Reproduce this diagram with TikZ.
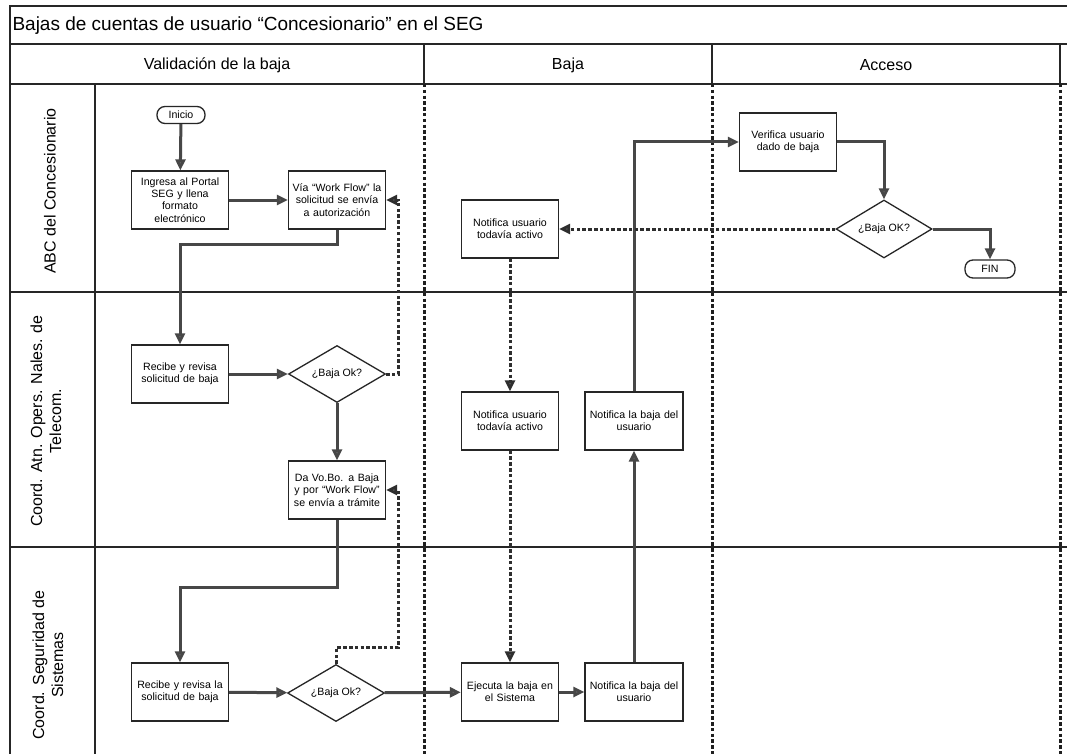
\documentclass[tikz,border=0pt]{standalone}
\usepackage{fontspec}
\setmainfont{Liberation Sans}
\usetikzlibrary{arrows.meta,shapes.geometric,calc}
\begin{document}
\begin{tikzpicture}[x=1pt,y=-1pt,
  frame/.style={line width=1.4pt,draw=black!85},
  divider/.style={line width=3pt,dash pattern=on 3.5pt off 2.3pt,draw=black!88},
  proc/.style={draw=black!85,line width=1.3pt,fill=white,minimum width=97pt,minimum height=58pt,
    text width=96pt,align=center,inner sep=0.5pt,font=\fontsize{10.6}{12.4}\selectfont},
  dec/.style={diamond,draw=black!85,line width=1.3pt,fill=white,minimum width=97pt,minimum height=57pt,
    aspect=1.7,inner sep=0pt,font=\fontsize{10.6}{12.4}\selectfont},
  term/.style={draw=black!85,line width=1.3pt,fill=white,rounded corners=8pt,minimum width=48pt,
    minimum height=17pt,inner sep=1pt,font=\fontsize{10.6}{12.4}\selectfont},
  flow/.style={line width=3pt,draw=black!72,-{Triangle[length=11pt,width=10pt,fill=black!60]}},
  dflow/.style={line width=3pt,draw=black!82,dash pattern=on 3.5pt off 2.3pt,
    -{Triangle[length=11pt,width=10pt,fill=black!60]}},
  lanelabel/.style={rotate=90,align=center,font=\fontsize{16}{19}\selectfont},
  colhead/.style={font=\fontsize{16}{19}\selectfont}
]
% page
\fill[white] (0,0) rectangle (1067,754);
\useasboundingbox (0,0) rectangle (1067,754);

% title row, column headers and lanes
\draw[frame] (10,754) -- (10,6) -- (1067,6);
\draw[frame] (10,44) -- (1067,44);
\draw[frame] (10,84) -- (1067,84);
\foreach \cx in {424,712,1060} \draw[frame] (\cx,44) -- (\cx,84);
\draw[frame] (95,84) -- (95,754);
\draw[frame] (10,292) -- (1067,292);
\draw[frame] (10,547) -- (1067,547);
\foreach \cx in {424,712,1060} \draw[divider] (\cx,84) -- (\cx,754);

\node[anchor=west,font=\fontsize{19}{22}\selectfont] (title) at (9,26)
  {Bajas de cuentas de usuario “Concesionario” en el SEG};
\node[colhead] (hval) at (217,65) {Validación de la baja};
\node[colhead] (hbaja) at (568,65) {Baja};
\node[colhead] (hacc) at (886,65) {Acceso};

\node[lanelabel] (l1) at (50,191) {ABC del Concesionario};
\node[lanelabel] (l2) at (46,421) {Coord. Atn. Opers. Nales. de\\Telecom.};
\node[lanelabel] (l3) at (48,665) {Coord. Seguridad de\\Sistemas};

% Validación de la baja
\node[term] (inicio) at (181,115) {Inicio};
\node[proc] (ingresa) at (180,200) {Ingresa al Portal\\SEG y llena\\formato\\electrónico};
\node[proc] (via) at (337,200) {Vía “Work Flow” la\\solicitud se envía\\a autorización};
\node[proc] (recibeA) at (180,374) {Recibe y revisa\\solicitud de baja};
\node[dec] (okA) at (337,374) {¿Baja Ok?};
\node[proc] (vobo) at (337,490) {Da Vo.Bo. a Baja\\y por “Work Flow”\\se envía a trámite};
\node[proc] (recibeB) at (180,692) {Recibe y revisa la\\solicitud de baja};
\node[dec] (okB) at (336,693) {¿Baja Ok?};

% Baja
\node[proc,minimum width=95pt] (activoA) at (510,229) {Notifica usuario\\todavía activo};
\node[proc,minimum width=95pt] (activoB) at (510,421) {Notifica usuario\\todavía activo};
\node[proc,minimum width=98pt] (notifA) at (634,421) {Notifica la baja del\\usuario};
\node[proc,minimum width=95pt] (ejecuta) at (510,692) {Ejecuta la baja en\\el Sistema};
\node[proc,minimum width=98pt] (notifB) at (634,692) {Notifica la baja del\\usuario};

% Acceso
\node[proc,minimum width=96pt] (verif) at (788,142) {Verifica usuario\\dado de baja};
\node[dec,minimum width=96pt,minimum height=58pt] (okC) at (884,229) {¿Baja OK?};
\node[term,minimum width=50pt,minimum height=18pt] (fin) at (990,269) {FIN};

% connectors
\draw[flow] (inicio) -- (ingresa);
\draw[flow] (ingresa) -- (via);
\draw[flow] (via.south) -- ++(0,15) -| (recibeA.north);
\draw[flow] (recibeA) -- (okA);
\draw[dflow] (okA.east) -- ++(12,0) |- (via.east);
\draw[flow] (okA) -- (vobo);
\draw[flow] (vobo.south) -- ++(0,68) -| (recibeB.north);
\draw[flow] (recibeB) -- (okB);
\draw[dflow] (okB.north) -- ++(0,-16) -| ($(vobo.east)+(12,0)$) -- (vobo.east);
\draw[flow] (okB) -- (ejecuta);
\draw[flow] (ejecuta) -- (notifB);
\draw[flow] (notifB) -- (notifA);
\draw[flow] (notifA.north) |- (verif.west);
\draw[flow] (verif.east) -| (okC.north);
\draw[dflow] (okC.west) -- (activoA.east);
\draw[flow] (okC.east) -| (fin.north);
\draw[dflow] (activoA) -- (activoB);
\draw[dflow] (activoB) -- (ejecuta);
\end{tikzpicture}
\end{document}
